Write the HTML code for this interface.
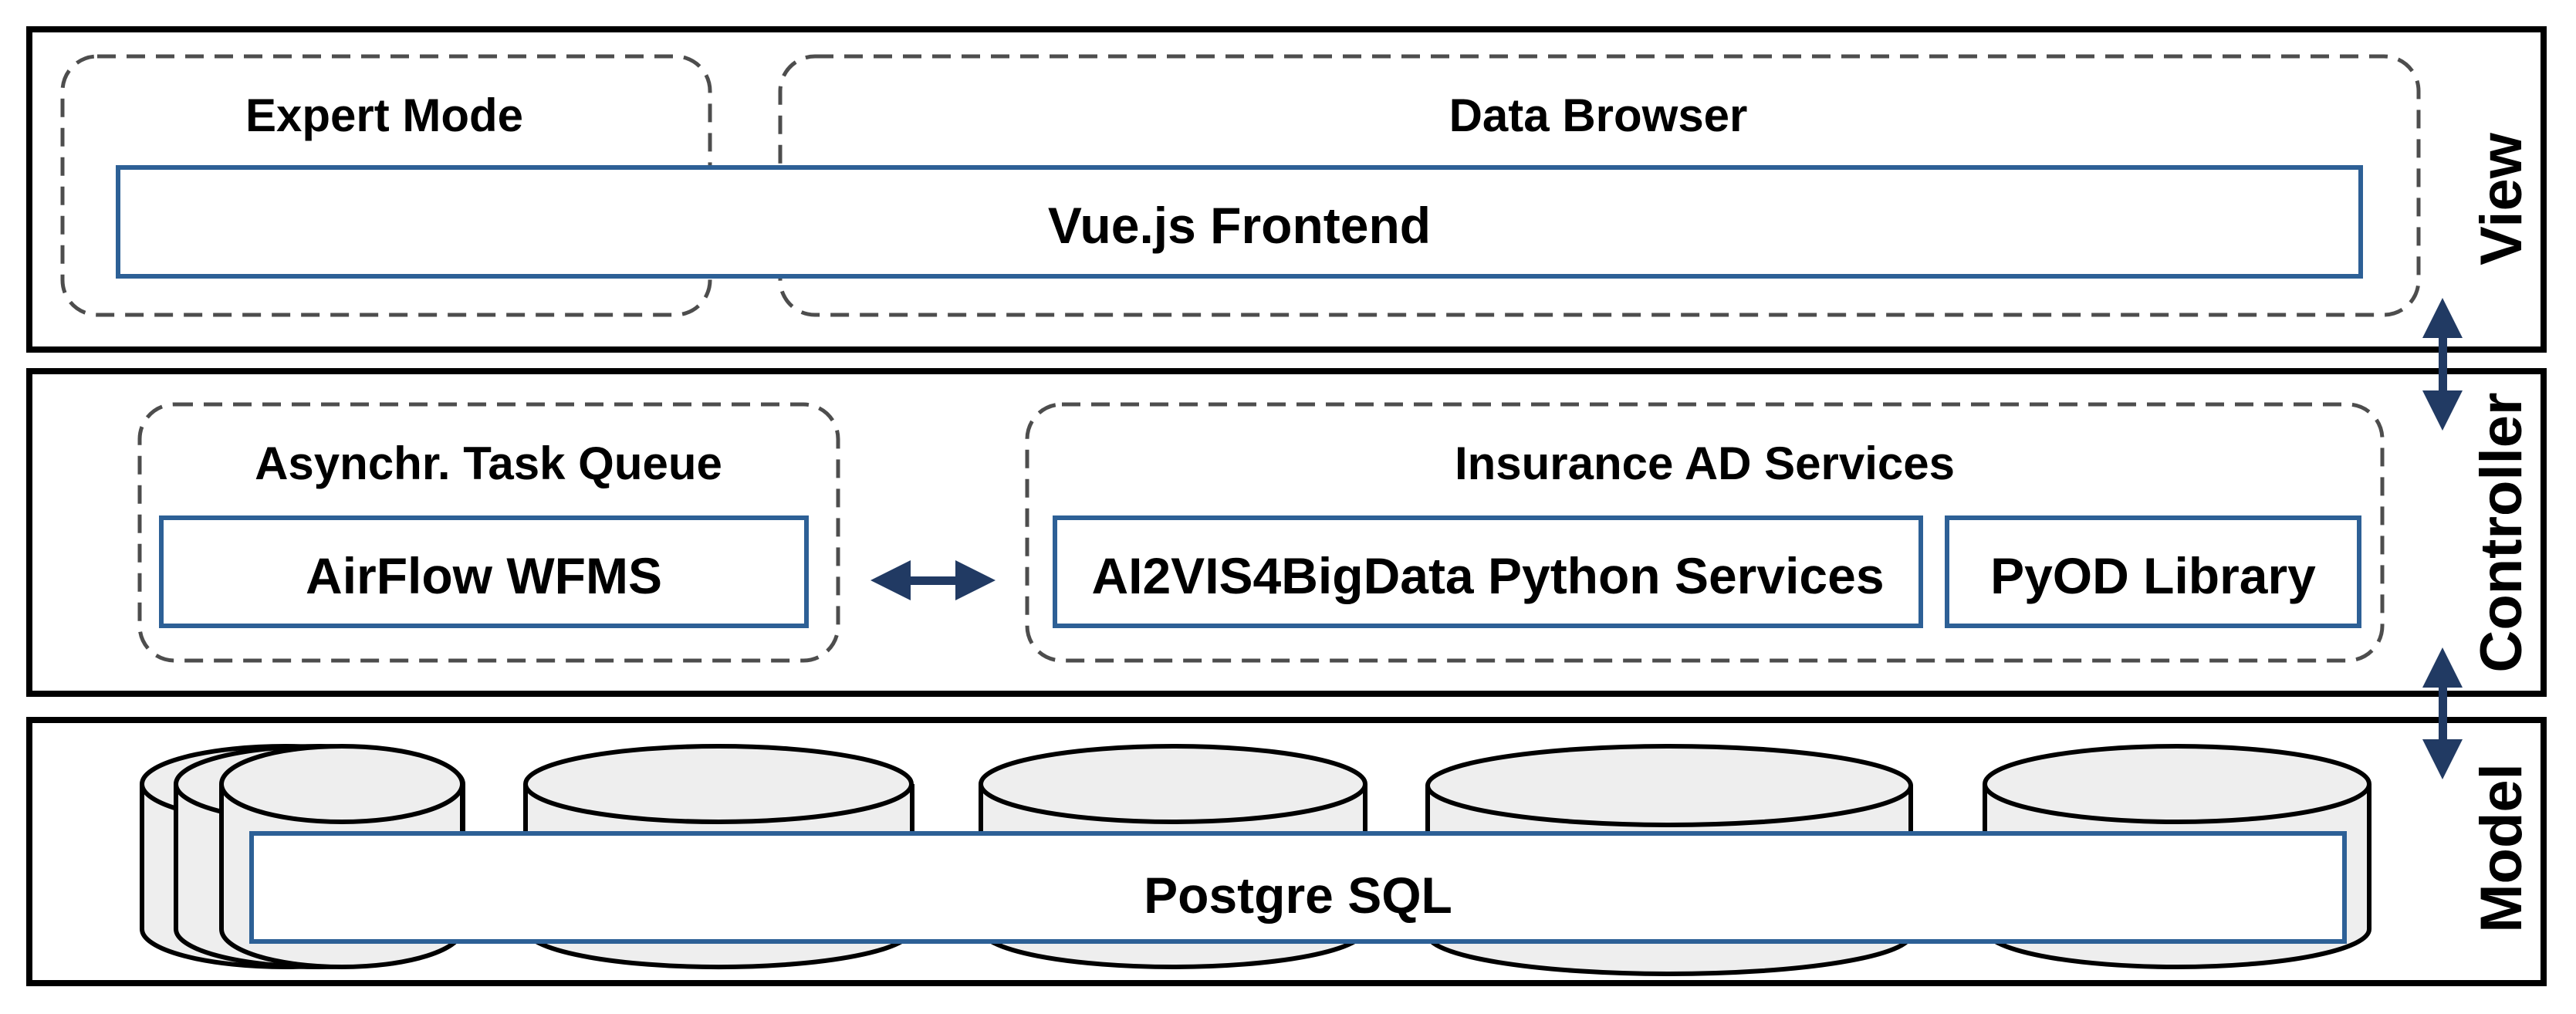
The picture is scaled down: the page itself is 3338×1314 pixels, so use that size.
<!DOCTYPE html>
<html><head><meta charset="utf-8"><style>
html,body{margin:0;padding:0;background:#fff}
svg{display:block}
text{font-family:"Liberation Sans",sans-serif;font-weight:bold;fill:#000}
</style></head><body>
<svg width="3338" height="1314" viewBox="0 0 3338 1314" xmlns="http://www.w3.org/2000/svg">
<!-- layer boxes -->
<rect x="38" y="38" width="3258" height="415" fill="#fff" stroke="#000" stroke-width="8"/>
<rect x="38" y="481" width="3258" height="418" fill="#fff" stroke="#000" stroke-width="8"/>
<rect x="38" y="933" width="3258" height="341" fill="#fff" stroke="#000" stroke-width="8"/>

<g fill="none" stroke="#4d4d4d" stroke-width="5" stroke-dasharray="24 14">
<rect x="81" y="73" width="839" height="335" rx="45"/>
<rect x="1011" y="73" width="2123" height="335" rx="45"/>
<rect x="181" y="524" width="905" height="332" rx="45"/>
<rect x="1331" y="524" width="1756" height="332" rx="45"/>
</g>
<text x="498" y="170" font-size="60" text-anchor="middle">Expert Mode</text>
<text x="2071" y="170" font-size="60" text-anchor="middle">Data Browser</text>
<rect x="153" y="217" width="2906" height="141" fill="#fff" stroke="#2d6096" stroke-width="6"/>
<text x="1606" y="315" font-size="66" text-anchor="middle">Vue.js Frontend</text>

<text x="633" y="621" font-size="60" text-anchor="middle">Asynchr. Task Queue</text>
<text x="2209" y="621" font-size="60" text-anchor="middle">Insurance AD Services</text>
<rect x="209" y="671" width="836" height="140" fill="#fff" stroke="#2d6096" stroke-width="6"/>
<text x="627" y="769" font-size="66" text-anchor="middle">AirFlow WFMS</text>
<rect x="1367" y="671" width="1122" height="140" fill="#fff" stroke="#2d6096" stroke-width="6"/>
<text x="1928" y="769" font-size="66" text-anchor="middle">AI2VIS4BigData Python Services</text>
<rect x="2523" y="671" width="534" height="140" fill="#fff" stroke="#2d6096" stroke-width="6"/>
<text x="2790" y="769" font-size="66" text-anchor="middle">PyOD Library</text>

<!-- arrows -->
<g fill="#213a63">
<rect x="1170" y="747" width="78" height="11"/>
<polygon points="1128,752 1180,726 1180,778"/>
<polygon points="1290,752 1238,726 1238,778"/>
<rect x="3160" y="430" width="11" height="90"/>
<polygon points="3165,386 3139,438 3191,438"/>
<polygon points="3165,558 3139,506 3191,506"/>
<rect x="3160" y="885" width="11" height="80"/>
<polygon points="3165,839 3139,891 3191,891"/>
<polygon points="3165,1010 3139,958 3191,958"/>
</g>

<text transform="translate(3267,258) rotate(-90)" font-size="76" text-anchor="middle">View</text>
<text transform="translate(3267,690) rotate(-90)" font-size="76" text-anchor="middle">Controller</text>
<text transform="translate(3267,1099) rotate(-90)" font-size="76" text-anchor="middle">Model</text>

<!-- cylinders -->
<g fill="#eeeeee" stroke="#000" stroke-width="6">
<path d="M184,1016 L184,1204 A186,49 0 0 0 556,1204 L556,1016"/>
<ellipse cx="370" cy="1016" rx="186" ry="49"/>
<path d="M228,1016 L228,1204 A186,49 0 0 0 600,1204 L600,1016"/>
<ellipse cx="414" cy="1016" rx="186" ry="49"/>
<path d="M287,1016 L287,1204 A156,49 0 0 0 599,1204 L599,1016"/>
<ellipse cx="443" cy="1016" rx="156" ry="49"/>

<path d="M681,1016 L681,1204 A250,49 0 0 0 1182,1204 L1182,1016"/>
<ellipse cx="931" cy="1016" rx="250" ry="49"/>
<path d="M1271,1016 L1271,1204 A249,49 0 0 0 1769,1204 L1769,1016"/>
<ellipse cx="1520" cy="1016" rx="249" ry="49"/>
<path d="M1850,1018 L1850,1211 A313,51 0 0 0 2476,1211 L2476,1018"/>
<ellipse cx="2163" cy="1018" rx="313" ry="51"/>
<path d="M2572,1016 L2572,1204 A249,49 0 0 0 3070,1204 L3070,1016"/>
<ellipse cx="2821" cy="1016" rx="249" ry="49"/>
</g>
<rect x="326" y="1080" width="2712" height="140" fill="#fff" stroke="#2d6096" stroke-width="6"/>
<text x="1682" y="1183" font-size="66" text-anchor="middle">Postgre SQL</text>
</svg>
</body></html>
